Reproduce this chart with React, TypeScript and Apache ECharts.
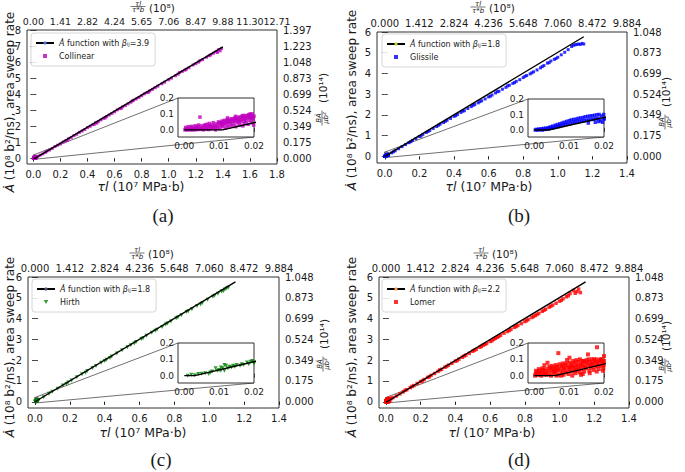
import { useEffect, useRef } from 'react';
import * as echarts from 'echarts';

// tick values / labels
const xTicksWide = [0, 0.2, 0.4, 0.6, 0.8, 1.0, 1.2, 1.4, 1.6, 1.8];
const xTicksNarrow = [0, 0.2, 0.4, 0.6, 0.8, 1.0, 1.2, 1.4];
const yTicksTall = [0, 1, 2, 3, 4, 5, 6, 7, 8];
const yTicksShort = [0, 1, 2, 3, 4, 5, 6];
const topLabelsWide = ['0.00', '1.41', '2.82', '4.24', '5.65', '7.06', '8.47', '9.88', '11.30', '12.71'];
const topLabelsNarrow = ['0.000', '1.412', '2.824', '4.236', '5.648', '7.060', '8.472', '9.884'];
const rightLabelsTall = ['0.000', '0.175', '0.349', '0.524', '0.699', '0.873', '1.048', '1.223', '1.397'];
const rightLabelsShort = ['0.000', '0.175', '0.349', '0.524', '0.699', '0.873', '1.048'];
const insetXTicks = [0, 0.01, 0.02];
const insetYTicks = [0, 0.1, 0.2];

// Collinear
const collinearMain = [
  [0.03, 0.12], [0.05, 0.2], [0.07, 0.28], [0.09, 0.38], [0.1, 0.45], [0.12, 0.52], [0.14, 0.62], [0.16, 0.74],
  [0.18, 0.82], [0.2, 0.9], [0.22, 1.02], [0.24, 1.1], [0.26, 1.22], [0.28, 1.3], [0.3, 1.42], [0.32, 1.5],
  [0.34, 1.62], [0.36, 1.7], [0.38, 1.8], [0.4, 1.92], [0.42, 2.0], [0.44, 2.1], [0.46, 2.22], [0.48, 2.3],
  [0.5, 2.4], [0.52, 2.5], [0.54, 2.6], [0.56, 2.7], [0.58, 2.8], [0.6, 2.9], [0.62, 3.02], [0.64, 3.1],
  [0.66, 3.22], [0.68, 3.3], [0.7, 3.4], [0.72, 3.5], [0.74, 3.62], [0.76, 3.7], [0.78, 3.8], [0.8, 3.9],
  [0.82, 4.02], [0.84, 4.1], [0.86, 4.2], [0.88, 4.3], [0.9, 4.4], [0.92, 4.5], [0.95, 4.65], [0.97, 4.75],
  [1.0, 4.9], [1.02, 5.0], [1.05, 5.15], [1.08, 5.35], [1.1, 5.42], [1.12, 5.5], [1.15, 5.65], [1.18, 5.82],
  [1.2, 5.9], [1.22, 6.0], [1.25, 6.15], [1.28, 6.3], [1.3, 6.4], [1.33, 6.55], [1.35, 6.65], [1.36, 6.6],
  [1.37, 6.78], [1.38, 6.7], [1.39, 6.85], [0.25, 1.12], [0.45, 2.12], [0.65, 3.12], [0.85, 4.12], [0.47, 2.2],
  [0.53, 2.52], [0.73, 3.58], [1.07, 5.25], [1.13, 5.55], [1.23, 6.08], [1.31, 6.45],
];
const collinearNear = [
  [0.0002, 0.0], [0.0005, 0.005], [0.0008, 0.0], [0.001, 0.01], [0.0013, 0.003], [0.0016, 0.0], [0.0018, 0.012],
  [0.002, 0.004], [0.0023, 0.0], [0.0025, 0.015], [0.0028, 0.006], [0.003, 0.0], [0.0033, 0.018], [0.0035, 0.008],
  [0.0038, 0.002], [0.004, 0.022], [0.0043, 0.01], [0.0045, 0.08], [0.0047, 0.003], [0.005, 0.025], [0.0053, 0.012],
  [0.0055, 0.0], [0.0058, 0.03], [0.006, 0.015], [0.0063, 0.005], [0.0065, 0.035], [0.0068, 0.018], [0.007, 0.002],
  [0.0072, 0.04], [0.0075, 0.02], [0.0078, 0.008], [0.008, 0.03], [0.0083, 0.045], [0.0085, 0.012], [0.0088, 0.025],
  [0.009, 0.0], [0.0092, 0.038], [0.0095, 0.015], [0.0098, 0.05], [0.01, 0.028], [0.0102, 0.008], [0.0105, 0.042],
  [0.0108, 0.055], [0.011, 0.02], [0.0113, 0.035], [0.0115, 0.06], [0.0118, 0.012], [0.012, 0.045], [0.0123, 0.028],
  [0.0125, 0.065], [0.0128, 0.018], [0.013, 0.05], [0.0133, 0.035], [0.0135, 0.07], [0.0138, 0.025], [0.014, 0.055],
  [0.0143, 0.04], [0.0145, 0.075], [0.0148, 0.02], [0.015, 0.06], [0.0153, 0.045], [0.0155, 0.08], [0.0158, 0.03],
  [0.016, 0.065], [0.0163, 0.05], [0.0165, 0.085], [0.0168, 0.025], [0.017, 0.07], [0.0173, 0.04], [0.0175, 0.09],
  [0.0178, 0.055], [0.018, 0.075], [0.0183, 0.035], [0.0185, 0.095], [0.0188, 0.06], [0.019, 0.08], [0.0193, 0.045],
  [0.0195, 0.1], [0.0198, 0.065], [0.02, 0.085], [0.0199, 0.03],
  [0.0004, 0.015], [0.0012, 0.02], [0.0021, 0.022], [0.0031, 0.025], [0.0041, 0.03], [0.0051, 0.01], [0.0061, 0.028],
  [0.0071, 0.025], [0.0081, 0.018], [0.0091, 0.022], [0.0101, 0.045], [0.0106, 0.03], [0.0111, 0.05], [0.0116, 0.04],
  [0.0121, 0.058], [0.0126, 0.048], [0.0131, 0.062], [0.0136, 0.052], [0.0141, 0.068], [0.0146, 0.058],
  [0.0151, 0.072], [0.0156, 0.062], [0.0161, 0.078], [0.0166, 0.068], [0.0171, 0.082], [0.0176, 0.072],
  [0.0181, 0.088], [0.0186, 0.078], [0.0191, 0.092], [0.0196, 0.085], [0.0124, 0.075], [0.0147, 0.085],
  [0.0168, 0.09], [0.0189, 0.1], [0.0157, 0.05], [0.0172, 0.055], [0.0192, 0.07],
];
const collinearFit = [[0, 0], [0.011, 0], [1.4, 6.95]];

// Glissile
const glissileMain = [
  [0.02, 0.07], [0.04, 0.17], [0.06, 0.27], [0.08, 0.37], [0.1, 0.47], [0.12, 0.57], [0.14, 0.66], [0.16, 0.77],
  [0.18, 0.86], [0.2, 0.96], [0.22, 1.06], [0.24, 1.15], [0.26, 1.25], [0.28, 1.35], [0.3, 1.44], [0.32, 1.55],
  [0.34, 1.63], [0.36, 1.74], [0.38, 1.83], [0.4, 1.93], [0.42, 2.02], [0.44, 2.12], [0.46, 2.2], [0.48, 2.31],
  [0.5, 2.4], [0.52, 2.5], [0.54, 2.58], [0.56, 2.68], [0.58, 2.77], [0.6, 2.87], [0.62, 2.96], [0.64, 3.06],
  [0.66, 3.14], [0.68, 3.24], [0.7, 3.33], [0.72, 3.43], [0.74, 3.52], [0.76, 3.62], [0.78, 3.7], [0.8, 3.8],
  [0.82, 3.9], [0.84, 3.98], [0.86, 4.08], [0.88, 4.17], [0.9, 4.27], [0.92, 4.38], [0.94, 4.5], [0.96, 4.6],
  [0.98, 4.68], [1.0, 4.78], [1.02, 4.9], [1.04, 5.02], [1.06, 5.15], [1.08, 5.3], [1.1, 5.38], [1.12, 5.42],
  [1.13, 5.4], [1.14, 5.45], [1.15, 5.42], [0.21, 0.98], [0.31, 1.5], [0.41, 1.96], [0.51, 2.46], [0.61, 2.9],
  [0.71, 3.4], [0.81, 3.86], [0.91, 4.33], [0.95, 4.52], [0.99, 4.72], [1.09, 5.36], [1.11, 5.4], [0.45, 2.18],
  [0.65, 3.12], [0.85, 4.03], [0.75, 3.56], [0.55, 2.64], [0.35, 1.69], [0.25, 1.2], [0.15, 0.71], [0.05, 0.22],
];
const glissileNear = [
  [0.0003, 0.0], [0.0006, 0.004], [0.001, 0.0], [0.0013, 0.006], [0.0016, 0.002], [0.002, 0.008], [0.0023, 0.0],
  [0.0026, 0.01], [0.003, 0.004], [0.0033, 0.012], [0.0036, 0.006], [0.004, 0.015], [0.0043, 0.008], [0.0046, 0.02],
  [0.005, 0.012], [0.0053, 0.025], [0.0056, 0.015], [0.006, 0.03], [0.0063, 0.02], [0.0066, 0.035], [0.007, 0.022],
  [0.0073, 0.04], [0.0076, 0.028], [0.008, 0.045], [0.0083, 0.03], [0.0086, 0.05], [0.009, 0.035], [0.0093, 0.055],
  [0.0096, 0.038], [0.01, 0.06], [0.0103, 0.042], [0.0106, 0.065], [0.011, 0.045], [0.0113, 0.068], [0.0116, 0.05],
  [0.012, 0.07], [0.0123, 0.052], [0.0126, 0.075], [0.013, 0.055], [0.0133, 0.078], [0.0136, 0.058], [0.014, 0.08],
  [0.0143, 0.06], [0.0146, 0.085], [0.015, 0.062], [0.0153, 0.088], [0.0156, 0.065], [0.016, 0.09], [0.0163, 0.068],
  [0.0166, 0.092], [0.017, 0.07], [0.0173, 0.095], [0.0176, 0.072], [0.018, 0.098], [0.0183, 0.075], [0.0186, 0.1],
  [0.019, 0.06], [0.0193, 0.09], [0.0196, 0.05], [0.0199, 0.1], [0.02, 0.075], [0.0175, 0.05], [0.0155, 0.045],
  [0.0185, 0.055],
];
const glissileFit = [[0, 0], [0.004, 0], [1.15, 5.77]];

// Hirth
const hirthMain = [
  [0.02, 0.08], [0.05, 0.22], [0.08, 0.38], [0.1, 0.48], [0.13, 0.62], [0.16, 0.78], [0.19, 0.93], [0.21, 1.02],
  [0.24, 1.18], [0.27, 1.32], [0.3, 1.48], [0.33, 1.62], [0.35, 1.72], [0.38, 1.88], [0.41, 2.02], [0.44, 2.18],
  [0.47, 2.32], [0.5, 2.48], [0.53, 2.62], [0.55, 2.72], [0.58, 2.88], [0.61, 3.02], [0.64, 3.18], [0.67, 3.32],
  [0.7, 3.46], [0.73, 3.6], [0.75, 3.72], [0.78, 3.86], [0.81, 4.02], [0.84, 4.16], [0.87, 4.32], [0.9, 4.45],
  [0.93, 4.6], [0.96, 4.75], [0.99, 4.9], [1.02, 5.05], [1.05, 5.2], [1.07, 5.3], [1.09, 5.4], [1.1, 5.45],
  [1.11, 5.5], [0.29, 1.4], [0.43, 2.1], [0.57, 2.8], [0.69, 3.42], [0.82, 4.05], [0.95, 4.68], [1.08, 5.32],
  [0.18, 0.86], [0.4, 1.96], [0.62, 3.06], [0.76, 3.76], [0.88, 4.35], [1.03, 5.1],
];
const hirthNear = [
  [0.001, 0.0], [0.002, 0.005], [0.003, 0.002], [0.004, 0.01], [0.005, 0.012], [0.006, 0.015], [0.007, 0.01],
  [0.0075, 0.02], [0.008, 0.025], [0.009, 0.045], [0.0095, 0.03], [0.01, 0.035], [0.0105, 0.05], [0.011, 0.045],
  [0.0115, 0.03], [0.012, 0.06], [0.0125, 0.045], [0.013, 0.055], [0.0135, 0.05], [0.014, 0.06], [0.0145, 0.055],
  [0.015, 0.065], [0.016, 0.06], [0.0165, 0.07], [0.017, 0.065], [0.018, 0.08], [0.0185, 0.07], [0.019, 0.085],
  [0.0195, 0.09], [0.02, 0.075], [0.0115, 0.065], [0.0105, 0.03],
];
const hirthFit = [[0, 0], [0.003, 0], [1.15, 5.77]];

// Lomer
const lomerMain = [
  [0.01, 0.05], [0.02, 0.12], [0.03, 0.15], [0.04, 0.2], [0.06, 0.28], [0.08, 0.38], [0.1, 0.48], [0.12, 0.58],
  [0.14, 0.68], [0.16, 0.78], [0.18, 0.88], [0.2, 0.97], [0.22, 1.07], [0.24, 1.17], [0.26, 1.27], [0.28, 1.36],
  [0.3, 1.46], [0.32, 1.56], [0.34, 1.66], [0.36, 1.76], [0.38, 1.85], [0.4, 1.95], [0.42, 2.05], [0.44, 2.14],
  [0.46, 2.24], [0.48, 2.33], [0.5, 2.43], [0.52, 2.52], [0.54, 2.62], [0.56, 2.72], [0.58, 2.8], [0.6, 2.9],
  [0.62, 3.0], [0.64, 3.1], [0.66, 3.2], [0.68, 3.3], [0.7, 3.38], [0.72, 3.48], [0.74, 3.58], [0.76, 3.67],
  [0.78, 3.76], [0.8, 3.86], [0.82, 3.96], [0.84, 4.05], [0.86, 4.15], [0.88, 4.25], [0.9, 4.35], [0.92, 4.45],
  [0.94, 4.55], [0.96, 4.65], [0.98, 4.74], [1.0, 4.84], [1.02, 4.95], [1.04, 5.05], [1.06, 5.2], [1.08, 5.35],
  [1.1, 5.3], [1.11, 5.42], [1.12, 5.25], [1.09, 5.22], [0.11, 0.55], [0.21, 1.0], [0.31, 1.53], [0.41, 1.98],
  [0.51, 2.48], [0.61, 2.93], [0.71, 3.43], [0.81, 3.9], [0.91, 4.4], [1.01, 4.88], [0.15, 0.74], [0.25, 1.2],
  [0.35, 1.7], [0.45, 2.2], [0.55, 2.66], [0.65, 3.14], [0.75, 3.62], [0.85, 4.1], [0.95, 4.6], [1.05, 5.1],
  [0.63, 3.05], [0.87, 4.2], [0.57, 2.76],
];
const lomerNear = [
  [0.0002, 0.0], [0.0004, 0.01], [0.0007, 0.02], [0.001, 0.005], [0.0012, 0.025], [0.0015, 0.012], [0.0018, 0.03],
  [0.002, 0.0], [0.0022, 0.018], [0.0025, 0.035], [0.0028, 0.008], [0.0029, 0.064], [0.003, 0.025], [0.0033, 0.04],
  [0.0035, 0.005], [0.0038, 0.079], [0.004, 0.03], [0.0042, 0.015], [0.0045, 0.045], [0.0048, 0.0], [0.005, 0.035],
  [0.0053, 0.02], [0.0055, 0.05], [0.0058, 0.01], [0.006, 0.04], [0.0063, 0.025], [0.0065, 0.055], [0.0069, 0.138],
  [0.007, 0.005], [0.0072, 0.045], [0.0075, 0.03], [0.0078, 0.06], [0.008, 0.015], [0.0083, 0.05], [0.0085, 0.035],
  [0.0088, 0.065], [0.009, 0.02], [0.0094, 0.096], [0.0096, 0.055], [0.0098, 0.01], [0.0101, 0.11], [0.0103, 0.04],
  [0.0106, 0.07], [0.0108, 0.025], [0.011, 0.06], [0.0113, 0.045], [0.0115, 0.08], [0.0118, 0.015], [0.012, 0.065],
  [0.0123, 0.035], [0.0125, 0.085], [0.0128, 0.05], [0.013, 0.02], [0.0133, 0.075], [0.0135, 0.04], [0.0138, 0.09],
  [0.014, 0.06], [0.0143, 0.025], [0.0145, 0.08], [0.0148, 0.045], [0.015, 0.095], [0.0154, 0.13], [0.0155, 0.065],
  [0.0158, 0.03], [0.016, 0.085], [0.0163, 0.05], [0.0165, 0.1], [0.0168, 0.07], [0.017, 0.035], [0.0173, 0.09],
  [0.0175, 0.055], [0.0178, 0.1], [0.018, 0.174], [0.0182, 0.075], [0.0185, 0.04], [0.0188, 0.095], [0.019, 0.06],
  [0.0193, 0.1], [0.0195, 0.08], [0.0198, 0.045], [0.02, 0.09], [0.0199, 0.065],
  [0.0005, 0.03], [0.0013, 0.04], [0.0023, 0.045], [0.0032, 0.012], [0.0043, 0.055], [0.0051, 0.06], [0.0057, 0.03],
  [0.0062, 0.065], [0.0067, 0.035], [0.0073, 0.07], [0.0077, 0.0], [0.0082, 0.075], [0.0087, 0.045], [0.0092, 0.075],
  [0.0097, 0.03], [0.0102, 0.08], [0.0107, 0.055], [0.0112, 0.09], [0.0117, 0.05], [0.0121, 0.095], [0.0126, 0.06],
  [0.0131, 0.1], [0.0136, 0.065], [0.0141, 0.09], [0.0146, 0.055], [0.0151, 0.08], [0.0156, 0.1], [0.0161, 0.06],
  [0.0166, 0.075], [0.0171, 0.1], [0.0176, 0.08], [0.0181, 0.06], [0.0186, 0.085], [0.0191, 0.1], [0.0196, 0.07],
  [0.0109, 0.0], [0.0119, 0.03], [0.0139, 0.01], [0.0159, 0.015], [0.0179, 0.025], [0.0197, 0.03], [0.0064, 0.0],
  [0.0084, 0.005], [0.0134, 0.005],
];
const lomerFit = [[0, 0], [0.006, 0], [1.15, 5.77]];

const FONT = 'DejaVu Sans';
const INK = '#1a1a1a';
const INSET_X = [-0.0018, 0.02];
const INSET_Y = [-0.045, 0.2];
const SQUARE = 'path://M0,0L10,0L10,10L0,10Z';
const TRI_DOWN = 'path://M0,0L10,0L5,9Z';

const panels = [
  {
    tag: '(a)', name: 'Collinear', beta: '3.9', color: '#bf00bf', symbol: 'rect', size: 3, insetSize: 3.5, rot: 0, icon: SQUARE,
    pts: [...collinearMain, ...collinearNear], fit: collinearFit,
    xTicks: xTicksWide, yTicks: yTicksTall, topLabels: topLabelsWide, rightLabels: rightLabelsTall, topFont: 9.5,
    grid: { left: 27, top: 30, width: 250, height: 134 }, xMin: -0.047, yMin: -0.35,
    inset: { left: 178, top: 98, width: 76, height: 39 }, legend: { left: 31, top: 33 },
    yName: [10, 102], xName: [141, 186], topName: [138, 6.5], rightName: [322, 118], tagPos: [163, 215],
  },
  {
    tag: '(b)', name: 'Glissile', beta: '1.8', color: '#0000ff', symbol: 'rect', size: 3, insetSize: 3.5, rot: 0, icon: SQUARE,
    pts: [...glissileMain, ...glissileNear], fit: glissileFit,
    xTicks: xTicksNarrow, yTicks: yTicksShort, topLabels: topLabelsNarrow, rightLabels: rightLabelsShort, topFont: 10,
    grid: { left: 377, top: 32, width: 250, height: 131 }, xMin: -0.045, yMin: -0.32,
    inset: { left: 528, top: 99, width: 76, height: 38 }, legend: { left: 382, top: 34 },
    yName: [352, 100], xName: [489, 186], topName: [478, 7], rightName: [665, 122], tagPos: [519, 215],
  },
  {
    tag: '(c)', name: 'Hirth', beta: '1.8', color: '#008000', symbol: 'triangle', size: 4, insetSize: 4, rot: 180, icon: TRI_DOWN,
    pts: [...hirthMain, ...hirthNear], fit: hirthFit,
    xTicks: xTicksNarrow, yTicks: yTicksShort, topLabels: topLabelsNarrow, rightLabels: rightLabelsShort, topFont: 10,
    grid: { left: 28, top: 277, width: 251, height: 131 }, xMin: -0.04, yMin: -0.3,
    inset: { left: 178, top: 343, width: 76, height: 40 }, legend: { left: 32, top: 279 },
    yName: [10, 347], xName: [143, 432], topName: [137, 253], rightName: [323, 364], tagPos: [161, 459],
  },
  {
    tag: '(d)', name: 'Lomer', beta: '2.2', color: '#ff0000', symbol: 'rect', size: 3.5, insetSize: 4, rot: 0, icon: SQUARE,
    pts: [...lomerMain, ...lomerNear], fit: lomerFit,
    xTicks: xTicksNarrow, yTicks: yTicksShort, topLabels: topLabelsNarrow, rightLabels: rightLabelsShort, topFont: 10,
    grid: { left: 379, top: 277, width: 250, height: 131 }, xMin: -0.04, yMin: -0.3,
    inset: { left: 528, top: 343, width: 76, height: 40 }, legend: { left: 382, top: 279 },
    yName: [352, 347], xName: [492, 432], topName: [481, 253], rightName: [665, 366], tagPos: [519, 459],
  },
];

function axis(gridIndex: number, position: string, min: number, max: number, ticks: number[],
  fmt: ((v: number) => string) | null, inside: boolean, fontSize = 10, margin = 5, tickLen = 3) {
  return {
    type: 'value', gridIndex, position, min, max,
    axisLine: { show: false },
    splitLine: { show: false },
    axisTick: { show: true, inside, length: tickLen, customValues: ticks, lineStyle: { color: INK, width: 0.8 } },
    axisLabel: {
      show: !!fmt, customValues: ticks, formatter: fmt || undefined, fontFamily: FONT, fontSize, color: INK,
      margin, showMinLabel: true, showMaxLabel: true, hideOverlap: false,
    },
  };
}

function fracLabel(x: number, y: number, rotation: number, num: string, den: string, tail: string, tailX: number) {
  const small = { fontFamily: FONT, fontSize: 7, fontStyle: 'italic', fill: INK, align: 'center', verticalAlign: 'middle' };
  return {
    type: 'group', x, y, rotation, silent: true,
    children: [
      { type: 'text', x: 0, y: -3, style: { ...small, text: num } },
      { type: 'line', shape: { x1: -7.5, y1: 0, x2: 7.5, y2: 0 }, style: { stroke: INK, lineWidth: 0.6 } },
      { type: 'text', x: 0, y: 3.8, style: { ...small, text: den } },
      {
        type: 'text', x: tailX, y: 1,
        style: { text: tail, fontFamily: FONT, fontSize: 10.5, fill: INK, align: 'left', verticalAlign: 'middle' },
      },
    ],
  };
}

export default function App() {
  const ref = useRef<HTMLDivElement>(null);

  useEffect(() => {
    if (!ref.current) return;
    const chart = echarts.init(ref.current, undefined, { renderer: 'svg' });

    const grids: any[] = [];
    const xAxes: any[] = [];
    const yAxes: any[] = [];
    const series: any[] = [];
    const legends: any[] = [];

    panels.forEach((p) => {
      grids.push({ ...p.grid, show: true, borderColor: INK, borderWidth: 0.9, backgroundColor: 'transparent', outerBoundsMode: 'none' });
    });
    panels.forEach((p) => {
      grids.push({ ...p.inset, show: true, borderColor: INK, borderWidth: 0.9, backgroundColor: '#fff', outerBoundsMode: 'none', z: 3 });
    });

    panels.forEach((p, i) => {
      const xMax = p.xTicks[p.xTicks.length - 1];
      const yMax = p.yTicks[p.yTicks.length - 1];
      xAxes.push(axis(i, 'bottom', p.xMin, xMax, p.xTicks, (v) => v.toFixed(1), false));
      xAxes.push(axis(i, 'top', p.xMin, xMax, p.xTicks, (v) => p.topLabels[Math.round(v / 0.2)], true, p.topFont, 4));
      yAxes.push(axis(i, 'left', p.yMin, yMax, p.yTicks, (v) => String(Math.round(v)), false, 10, 6));
      yAxes.push(axis(i, 'right', p.yMin, yMax, p.yTicks, (v) => p.rightLabels[Math.round(v)], false, 10, 6));
    });
    panels.forEach((p, i) => {
      const g = 4 + i;
      xAxes.push(axis(g, 'bottom', INSET_X[0], INSET_X[1], insetXTicks, (v) => v.toFixed(2), true, 9, 4, 2));
      xAxes.push(axis(g, 'top', INSET_X[0], INSET_X[1], insetXTicks, null, true, 9, 4, 2));
      yAxes.push(axis(g, 'left', INSET_Y[0], INSET_Y[1], insetYTicks, (v) => v.toFixed(1), true, 9, 4, 2));
      yAxes.push(axis(g, 'right', INSET_Y[0], INSET_Y[1], insetYTicks, null, true, 9, 4, 2));
    });

    panels.forEach((p, i) => {
      const fitName = `fit-${i}`;
      const scatterBase = {
        type: 'scatter', name: p.name, data: p.pts, symbol: p.symbol, symbolRotate: p.rot,
        itemStyle: { color: p.color }, silent: true,
      };
      const lineBase = {
        type: 'line', name: fitName, data: p.fit, symbol: 'none', silent: true,
        lineStyle: { color: '#000', width: 1.4 }, z: 4,
      };
      series.push({ ...scatterBase, symbolSize: p.size, xAxisIndex: i * 2, yAxisIndex: i * 2, clip: false });
      series.push({ ...lineBase, xAxisIndex: i * 2, yAxisIndex: i * 2 });
      series.push({ ...scatterBase, symbolSize: p.insetSize, xAxisIndex: 8 + i * 2, yAxisIndex: 8 + i * 2, clip: true, z: 5 });
      series.push({ ...lineBase, xAxisIndex: 8 + i * 2, yAxisIndex: 8 + i * 2, clip: true, z: 6 });

      legends.push({
        left: p.legend.left, top: p.legend.top, orient: 'vertical', selectedMode: false,
        data: [fitName, { name: p.name, icon: p.icon }], itemWidth: 18, itemHeight: 4, itemGap: 3,
        symbolKeepAspect: true, symbolRotate: 0,
        padding: [5, 6, 5, 4], borderColor: '#cccccc', borderWidth: 0.8, borderRadius: 3,
        backgroundColor: 'rgba(255,255,255,0.85)',
        textStyle: {
          fontFamily: FONT, fontSize: 8, color: INK, lineHeight: 10,
          rich: { i: { fontFamily: FONT, fontSize: 8, fontStyle: 'italic', color: INK } },
        },
        formatter: (n: string) => (n === fitName ? `{i|Ȧ} function with {i|β}ᵢⱼ=${p.beta}` : n),
      });
    });

    chart.setOption({
      animation: false,
      backgroundColor: '#fff',
      grid: grids,
      xAxis: xAxes,
      yAxis: yAxes,
      legend: legends,
      series,
    });

    const graphics: any[] = [];
    panels.forEach((p, i) => {
      const finder = { xAxisIndex: i * 2, yAxisIndex: i * 2 };
      const tl = chart.convertToPixel(finder, [INSET_X[0], INSET_Y[1]]) as number[];
      const br = chart.convertToPixel(finder, [INSET_X[1], INSET_Y[0]]) as number[];
      const conn = { stroke: '#333', lineWidth: 0.7, fill: 'none' };
      graphics.push({ type: 'rect', shape: { x: tl[0], y: tl[1], width: br[0] - tl[0], height: br[1] - tl[1] }, style: conn, silent: true });
      graphics.push({ type: 'line', shape: { x1: tl[0], y1: tl[1], x2: p.inset.left, y2: p.inset.top }, style: conn, silent: true });
      graphics.push({
        type: 'line', shape: { x1: br[0], y1: br[1], x2: p.inset.left + p.inset.width, y2: p.inset.top + p.inset.height },
        style: conn, silent: true,
      });

      graphics.push({
        type: 'text', x: p.yName[0], y: p.yName[1], rotation: Math.PI / 2, silent: true,
        style: {
          text: '{i|Ȧ} (10⁸ b²/ns), area sweep rate', fontFamily: FONT, fontSize: 12, fill: INK,
          align: 'center', verticalAlign: 'middle',
          rich: { i: { fontFamily: FONT, fontSize: 12, fontStyle: 'italic', fill: INK } },
        },
      });
      graphics.push({
        type: 'text', x: p.xName[0], y: p.xName[1], silent: true,
        style: {
          text: '{i|τl} (10⁷ MPa·b)', fontFamily: FONT, fontSize: 12.5, fill: INK,
          align: 'center', verticalAlign: 'middle',
          rich: { i: { fontFamily: FONT, fontSize: 12.5, fontStyle: 'italic', fill: INK } },
        },
      });
      graphics.push(fracLabel(p.topName[0], p.topName[1], 0, 'τl', 'τ*b', '(10⁸)', 11));
      graphics.push(fracLabel(p.rightName[0], p.rightName[1], Math.PI / 2, 'BȦ', 'μb²', '(10¹⁴)', 15));
      graphics.push({
        type: 'text', x: p.tagPos[0], y: p.tagPos[1], silent: true,
        style: {
          text: p.tag, fontFamily: 'Liberation Serif', fontSize: 19, fill: INK, align: 'center', verticalAlign: 'middle',
        },
      });
    });
    chart.setOption({ graphic: graphics });

    return () => {
      chart.dispose();
    };
  }, []);

  return (
    <div
      ref={ref}
      style={{ position: 'fixed', left: 0, top: 0, width: '685px', height: '472px', background: '#fff' }}
    ></div>
  );
}
